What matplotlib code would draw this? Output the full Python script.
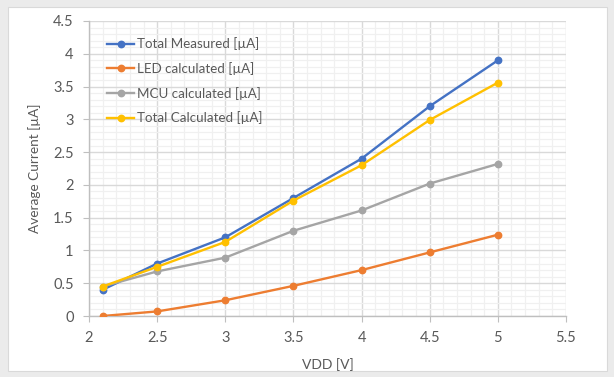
import matplotlib
matplotlib.use("Agg")
import matplotlib.pyplot as plt
from matplotlib.patches import Rectangle
from matplotlib.ticker import MultipleLocator

vdd = [2.1, 2.5, 3.0, 3.5, 4.0, 4.5, 5.0]
total_measured = [0.40, 0.80, 1.20, 1.80, 2.40, 3.20, 3.90]
led_calc = [0.00, 0.07, 0.24, 0.46, 0.70, 0.97, 1.24]
mcu_calc = [0.45, 0.68, 0.89, 1.30, 1.61, 2.02, 2.32]
total_calc = [0.45, 0.75, 1.13, 1.76, 2.30, 2.99, 3.56]

series_names = ["Total Measured [µA]", "LED calculated [µA]",
                "MCU calculated [µA]", "Total Calculated [µA]"]
colors = ["#4472C4", "#ED7D31", "#A5A5A5", "#FFC000"]
xtick_vals = [2, 2.5, 3, 3.5, 4, 4.5, 5, 5.5]
xtick_labels = ["2", "2.5", "3", "3.5", "4", "4.5", "5", "5.5"]
ytick_vals = [0, 0.5, 1, 1.5, 2, 2.5, 3, 3.5, 4, 4.5]
ytick_labels = ["0", "0.5", "1", "1.5", "2", "2.5", "3", "3.5", "4", "4.5"]

plt.rcParams['font.family'] = ['Lato', 'DejaVu Sans']
txt = "#595959"

W, H = 614, 377
fig = plt.figure(figsize=(W/100, H/100), dpi=100)
fig.patch.set_facecolor("#ebebeb")
fig.patches.append(Rectangle((8/W, 1-371/H), (607-8)/W, (371-7)/H,
                             transform=fig.transFigure, facecolor="white",
                             edgecolor="#d9d9d9", linewidth=0.8, zorder=-10))

L, R, T, B = 89, 566, 21, 316
ax = fig.add_axes([L/W, 1-B/H, (R-L)/W, (B-T)/H])
ax.set_facecolor("white")

for ys, name, c in zip([total_measured, led_calc, mcu_calc, total_calc], series_names, colors):
    ax.plot(vdd, ys, color=c, lw=1.7, marker='o', ms=4.6, label=name, zorder=3)

ax.set_xlim(2, 5.5)
ax.set_ylim(0, 4.5)
ax.xaxis.set_minor_locator(MultipleLocator(0.1))
ax.yaxis.set_minor_locator(MultipleLocator(0.1))
ax.set_xticks(xtick_vals)
ax.set_xticklabels(xtick_labels)
ax.set_yticks(ytick_vals)
ax.set_yticklabels(ytick_labels)

ax.grid(which='major', color="#d9d9d9", lw=1.0, zorder=1)
ax.grid(which='minor', color="#f0f0f0", lw=0.9, zorder=0)
ax.set_axisbelow(True)
for s in ['top', 'right']:
    ax.spines[s].set_visible(False)
for s in ['left', 'bottom']:
    ax.spines[s].set_color("#bfbfbf")
    ax.spines[s].set_linewidth(1.0)
ax.tick_params(which='major', length=4, color="#bfbfbf", labelsize=10.5, labelcolor=txt, pad=7)
ax.tick_params(which='minor', length=0)

ax.set_xlabel("VDD [V]", fontsize=10, color=txt, labelpad=9)
ax.set_ylabel("Average Current [µA]", fontsize=9.8, color=txt, labelpad=9)

leg = ax.legend(loc='upper left', bbox_to_anchor=(0.021, 0.972), frameon=False,
                fontsize=9.6, labelcolor=txt, handlelength=2.05, handletextpad=0.2,
                labelspacing=0.88, borderaxespad=0.2)

fig.savefig("out.png", dpi=100, facecolor=fig.get_facecolor())
